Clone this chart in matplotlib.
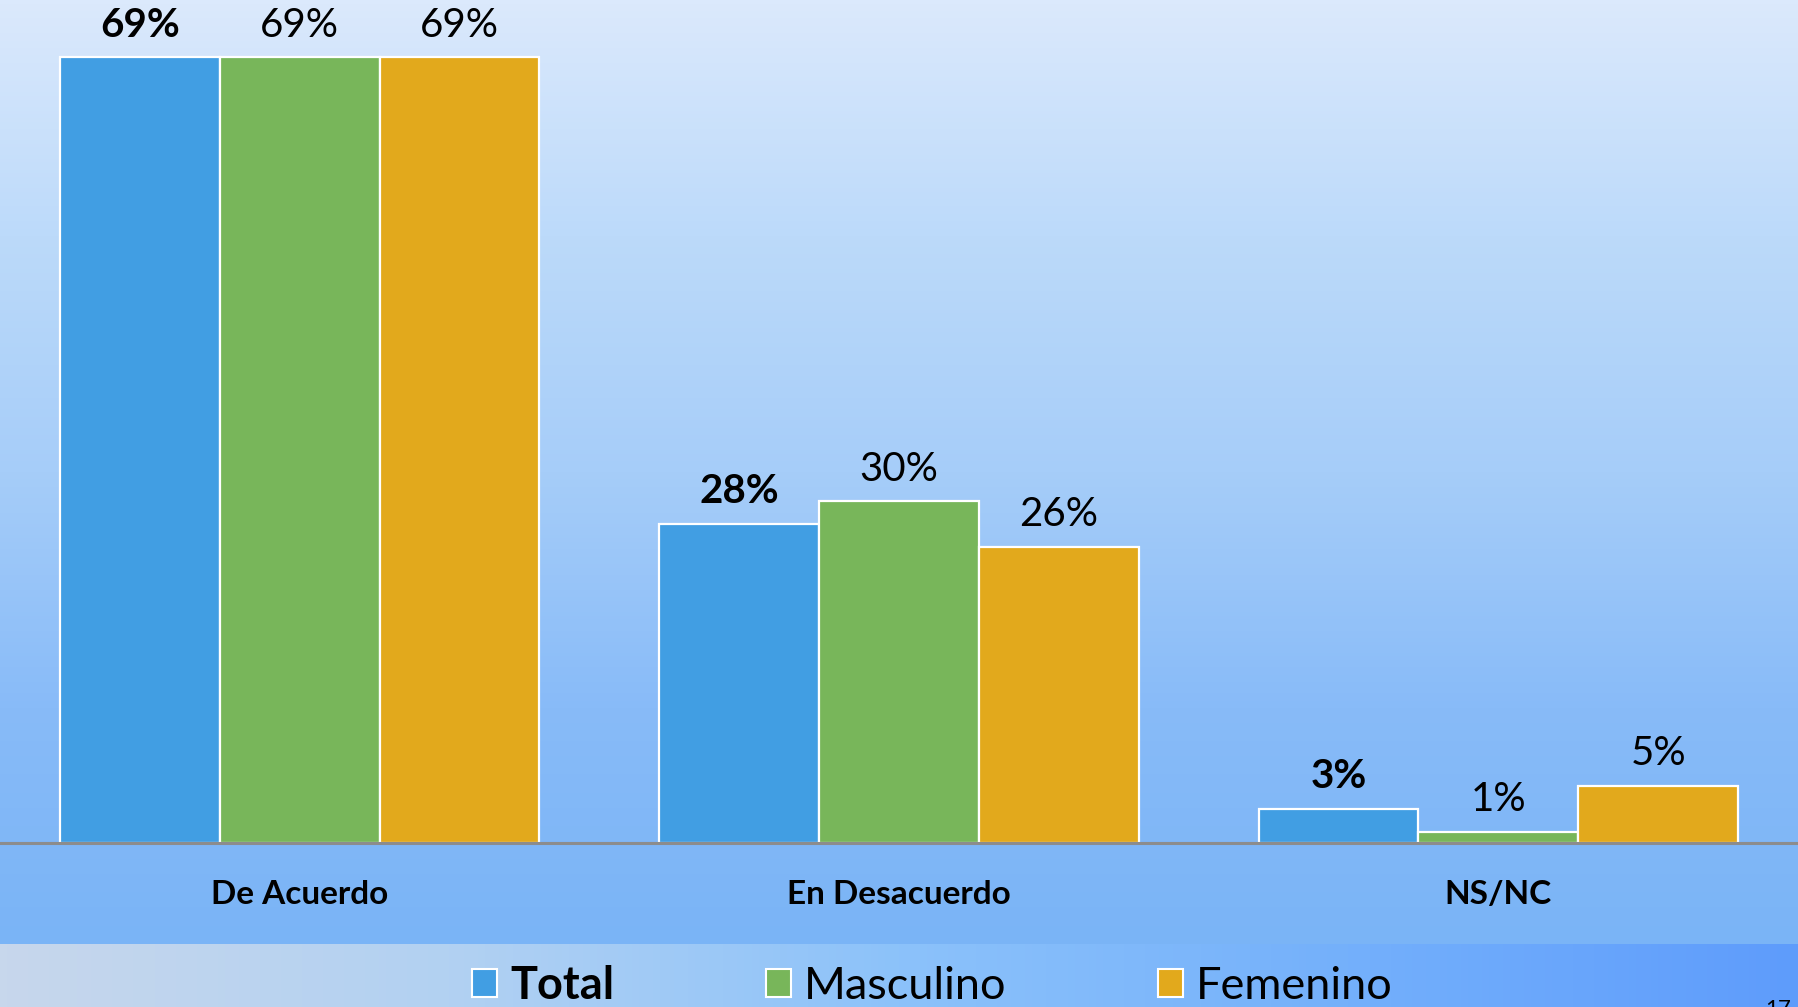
import matplotlib.pyplot as plt
import numpy as np
from matplotlib.colors import LinearSegmentedColormap
from matplotlib.patches import Patch

# ── Data ─────────────────────────────────────────────────────
categories = ['De Acuerdo', 'En Desacuerdo', 'NS/NC']
series = ['Total', 'Masculino', 'Femenino']
total = [69, 28, 3]
masculino = [69, 30, 1]
femenino = [69, 26, 5]
values = [total, masculino, femenino]
colors = ['#419ee3', '#78b65a', '#e2a91c']
page_number = '17'

plt.rcParams['font.family'] = ['Lato', 'DejaVu Sans']

W, H = 1798, 1007
fig = plt.figure(figsize=(W / 100, H / 100), dpi=100)

# ── Background: vertical gradient above, horizontal band for the legend ──
bg = fig.add_axes([0, 0, 1, 1], zorder=-2)
bg.set_xlim(0, W)
bg.set_ylim(H, 0)
bg.axis('off')
top_cmap = LinearSegmentedColormap.from_list(
    'top', ['#dbe9fc', '#bcdafa', '#a6cdf9', '#88bbf8', '#7ab4f6'])
band_cmap = LinearSegmentedColormap.from_list(
    'band', ['#c7d7ec', '#b2d1f2', '#8cc2fa', '#74b0fb', '#5e9cfb'])
grad = np.linspace(0, 1, 256)
bg.imshow(grad.reshape(-1, 1), cmap=top_cmap, extent=[0, W, 944, 0], aspect='auto')
bg.imshow(grad.reshape(1, -1), cmap=band_cmap, extent=[0, W, H, 944], aspect='auto')

# ── Bars ─────────────────────────────────────────────────────
ax = fig.add_axes([0, (H - 843) / H, 1, 843 / H])
ax.set_facecolor('none')
x = np.arange(len(categories))
width = 0.8 / 3

for i, (name, vals, col) in enumerate(zip(series, values, colors)):
    bars = ax.bar(x + (i - 1) * width, vals, width, color=col,
                  edgecolor='white', linewidth=1.6, label=name)
    ax.bar_label(bars, labels=[f'{v}%' for v in vals], padding=10,
                 fontsize=29, fontweight='bold' if i == 0 else 'normal')

ax.set_xlim(-0.5, 2.5)
ax.set_ylim(0, 74.05)
ax.set_yticks([])
ax.set_xticks(x)
ax.set_xticklabels(categories, fontsize=24, fontweight='bold')
ax.tick_params(axis='x', length=0, pad=26.5)
for s in ['top', 'left', 'right']:
    ax.spines[s].set_visible(False)
ax.spines['bottom'].set_color('#8c8c8c')
ax.spines['bottom'].set_linewidth(2.2)

# ── Legend ───────────────────────────────────────────────────
handles = [Patch(facecolor=c, edgecolor='white', linewidth=1.5) for c in colors]
leg = fig.legend(handles, series, loc='center left',
                 bbox_to_anchor=(472 / W, 1 - 986 / H), ncol=3, frameon=False,
                 fontsize=32.5, handlelength=0.55, handleheight=0.55,
                 handletextpad=0.3, columnspacing=3.35,
                 borderpad=0, borderaxespad=0)
leg.get_texts()[0].set_fontweight('bold')

fig.text(1765 / W, 1 - 999 / H, page_number, fontsize=16, va='top', ha='left')

fig.savefig('out.png', dpi=100)
